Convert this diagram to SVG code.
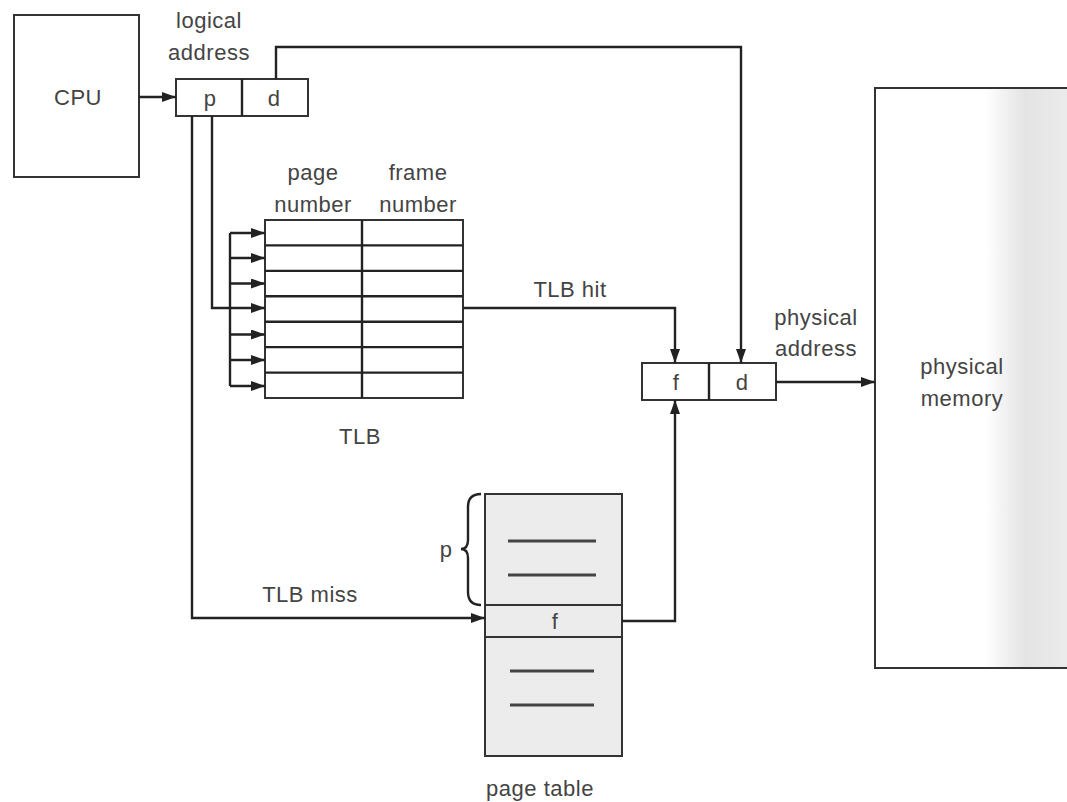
<svg xmlns="http://www.w3.org/2000/svg" width="1067" height="802" viewBox="0 0 1067 802">
<defs>
<marker id="ah" viewBox="0 0 14 10" refX="14" refY="5" markerWidth="14" markerHeight="10" markerUnits="userSpaceOnUse" orient="auto">
<path d="M0,0 L14,5 L0,10 z" fill="#222"/>
</marker>
<linearGradient id="mem" x1="0" y1="0" x2="1" y2="0">
<stop offset="0" stop-color="#ffffff"/>
<stop offset="0.55" stop-color="#ffffff"/>
<stop offset="0.75" stop-color="#e4e4e4"/>
<stop offset="1" stop-color="#ececec"/>
</linearGradient>
<style>
.box{fill:#fff;stroke:#333;stroke-width:2}
.ln{fill:none;stroke:#222;stroke-width:2.4}
.t{font-family:"Liberation Sans",Arial,sans-serif;font-size:22px;fill:#444;text-anchor:middle;letter-spacing:0.5px}
.pt{fill:#ececec;stroke:#333;stroke-width:2}
.bar{stroke:#444;stroke-width:3}
</style>
</defs>
<rect width="1067" height="802" fill="#fff"/>

<g id="cpu">
<rect class="box" x="14" y="15" width="125" height="162"/>
<text class="t" x="78" y="105">CPU</text>
</g>

<g id="logical-address">
<text class="t" x="209" y="28">logical</text>
<text class="t" x="209" y="60">address</text>
<rect class="box" x="176" y="79" width="132" height="37"/>
<line class="ln" x1="242" y1="79" x2="242" y2="116"/>
<text class="t" x="210" y="106">p</text>
<text class="t" x="274" y="106">d</text>
</g>

<g id="tlb">
<text class="t" x="313" y="180">page</text>
<text class="t" x="313" y="212">number</text>
<text class="t" x="418" y="180">frame</text>
<text class="t" x="418" y="212">number</text>
<rect class="box" x="265" y="220" width="198" height="178"/>
<line class="ln" x1="362" y1="220" x2="362" y2="398"/>
<g class="ln">
<line x1="265" y1="245.4" x2="463" y2="245.4"/>
<line x1="265" y1="270.9" x2="463" y2="270.9"/>
<line x1="265" y1="296.3" x2="463" y2="296.3"/>
<line x1="265" y1="321.7" x2="463" y2="321.7"/>
<line x1="265" y1="347.1" x2="463" y2="347.1"/>
<line x1="265" y1="372.6" x2="463" y2="372.6"/>
</g>
<text class="t" x="360" y="444">TLB</text>
</g>

<g id="fd-box">
<rect class="box" x="642" y="363" width="134" height="37"/>
<line class="ln" x1="709" y1="363" x2="709" y2="400"/>
<text class="t" x="676" y="390">f</text>
<text class="t" x="742" y="390">d</text>
<text class="t" x="816" y="325">physical</text>
<text class="t" x="816" y="356">address</text>
</g>

<g id="physical-memory">
<rect x="875" y="88" width="200" height="580" fill="url(#mem)" stroke="#333" stroke-width="2"/>
<text class="t" x="962" y="374">physical</text>
<text class="t" x="962" y="406">memory</text>
</g>

<g id="page-table">
<rect class="pt" x="485" y="494" width="137" height="262"/>
<rect class="pt" x="485" y="605" width="137" height="32"/>
<line class="bar" x1="508" y1="541" x2="596" y2="541"/>
<line class="bar" x1="508" y1="575" x2="596" y2="575"/>
<line class="bar" x1="510" y1="671" x2="594" y2="671"/>
<line class="bar" x1="510" y1="705" x2="594" y2="705"/>
<text class="t" x="555" y="629">f</text>
<path class="ln" d="M481,494 Q468,494 468,507 L468,540 Q468,549 461,549 Q468,549 468,558 L468,592 Q468,605 481,605" stroke-width="1.8"/>
<text class="t" x="446" y="557">p</text>
<text class="t" x="540" y="796">page table</text>
</g>

<g id="connectors">
<line class="ln" x1="139" y1="97" x2="176" y2="97" marker-end="url(#ah)"/>
<polyline class="ln" points="276,79 276,47 741,47 741,363" marker-end="url(#ah)"/>
<polyline class="ln" points="212,116 212,308 265,308" marker-end="url(#ah)"/>
<line class="ln" x1="230" y1="233" x2="230" y2="386"/>
<line class="ln" x1="230" y1="233" x2="265" y2="233" marker-end="url(#ah)"/>
<line class="ln" x1="230" y1="258" x2="265" y2="258" marker-end="url(#ah)"/>
<line class="ln" x1="230" y1="283.5" x2="265" y2="283.5" marker-end="url(#ah)"/>
<line class="ln" x1="230" y1="334.5" x2="265" y2="334.5" marker-end="url(#ah)"/>
<line class="ln" x1="230" y1="360" x2="265" y2="360" marker-end="url(#ah)"/>
<line class="ln" x1="230" y1="386" x2="265" y2="386" marker-end="url(#ah)"/>
<polyline class="ln" points="192,116 192,618 485,618" marker-end="url(#ah)"/>
<polyline class="ln" points="463,308 675,308 675,363" marker-end="url(#ah)"/>
<polyline class="ln" points="622,621 675,621 675,400" marker-end="url(#ah)"/>
<line class="ln" x1="776" y1="382" x2="875" y2="382" marker-end="url(#ah)"/>
<text class="t" x="570" y="297">TLB hit</text>
<text class="t" x="310" y="602">TLB miss</text>
</g>
</svg>
